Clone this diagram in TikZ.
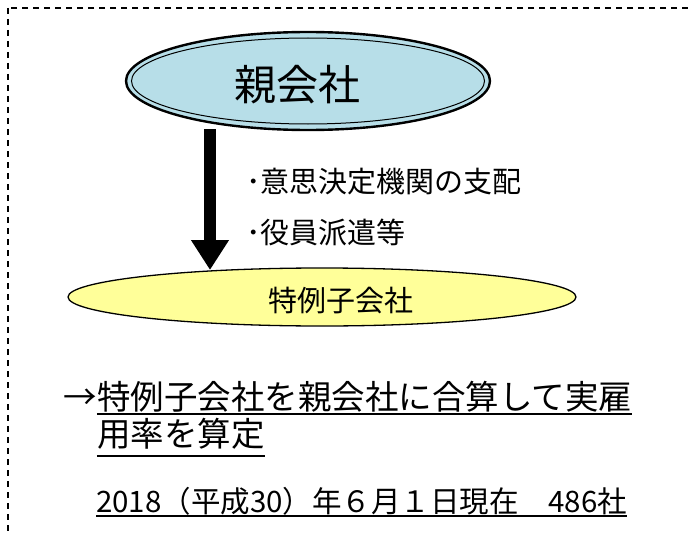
\documentclass[tikz,border=0pt]{standalone}
\usepackage{fontspec}
\setmainfont{Noto Sans CJK JP}
\newfontfamily\jp{Noto Sans CJK JP}
\usetikzlibrary{shapes.geometric,arrows.meta}
\definecolor{parentblue}{RGB}{183,222,232}
\definecolor{childyellow}{RGB}{255,255,153}
\tikzset{
  frame/.style={draw=black, line width=1.4pt, dash pattern=on 6pt off 5pt},
  parentell/.style={ellipse, draw=black, line width=2.4pt, fill=parentblue, inner sep=0pt,
    minimum width=364pt, minimum height=98pt},
  childell/.style={ellipse, draw=black, line width=1.3pt, fill=childyellow, inner sep=0pt,
    minimum width=508pt, minimum height=58pt},
  bigarrow/.style={line width=12pt, -{Triangle[width=36pt,length=30pt]}},
  txt/.style={inner sep=0pt, anchor=base west, font=\jp},
  uline/.style={line width=1.6pt}
}
\begin{document}
\begin{tikzpicture}[x=1pt,y=-1pt]
\useasboundingbox (0,0) rectangle (688,535);
\clip (0,0) rectangle (688,535);
\draw[frame] (8,8) rectangle (720,560);

% child ellipse
\node[childell] (child) at (322,297) {};
\node[txt, font=\jp\fontsize{29}{29}\selectfont] (childlabel) at (268,311) {特例子会社};

% arrow
\coordinate (as) at (210,129);
\coordinate (ae) at (210,270);
\draw[bigarrow] (as) -- (ae);

% parent ellipse (double border)
\node[parentell] (parent) at (308,81) {};
\draw[line width=1pt] (parent.center) ellipse [x radius=176.5, y radius=43];
\node[txt, font=\jp\fontsize{42}{42}\selectfont] (parentlabel) at (234,100) {親会社};

% bullet texts
\node[txt, font=\jp\fontsize{29}{29}\selectfont] (b1) at (246,192) {･意思決定機関の支配};
\node[txt, font=\jp\fontsize{29}{29}\selectfont] (b2) at (246,243) {･役員派遣等};

% bottom texts
\node[txt, font=\jp\fontsize{33.5}{33.5}\selectfont] (arr) at (63,409) {→};
\node[txt, font=\jp\fontsize{33.5}{33.5}\selectfont] (l1) at (arr.base east) {特例子会社を親会社に合算して実雇};
\node[txt, font=\jp\fontsize{33.5}{33.5}\selectfont] (l2) at (arr.base east |- 0,446) {用率を算定};
\node[txt, font=\jp\fontsize{29.5}{29.5}\selectfont] (l3) at (96,512) {2018（平成30）年６月１日現在　486社};

\draw[uline] ([yshift=-5pt]l1.base west) -- ([yshift=-5pt]l1.base east);
\draw[uline] ([yshift=-10pt]l2.base west) -- ([yshift=-10pt]l2.base east);
\draw[uline] ([yshift=-4pt]l3.base west) -- ([yshift=-4pt]l3.base east);
\end{tikzpicture}
\end{document}
